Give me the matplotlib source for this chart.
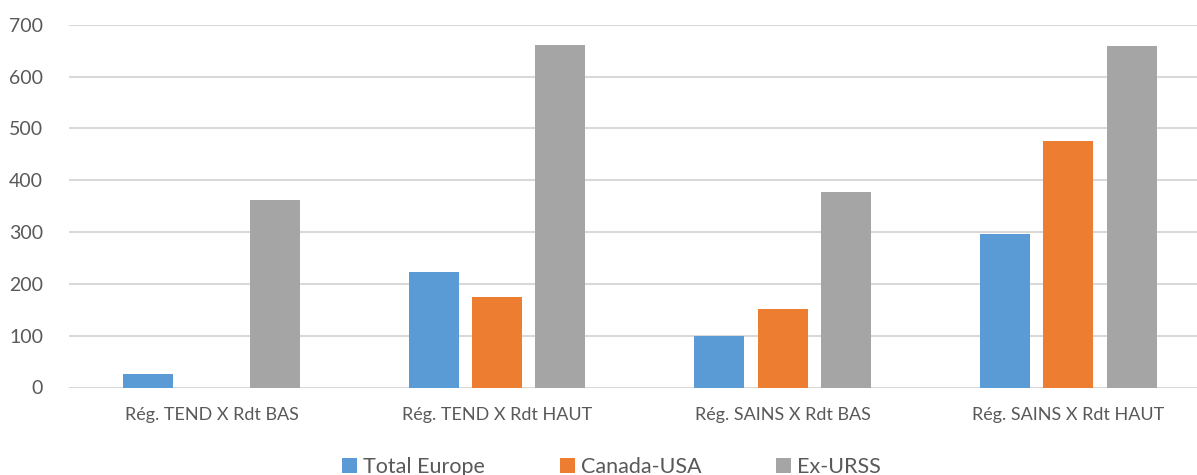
import matplotlib.pyplot as plt
import numpy as np

categories = ['Rég. TEND X Rdt BAS', 'Rég. TEND X Rdt HAUT',
              'Rég. SAINS X Rdt BAS', 'Rég. SAINS X Rdt HAUT']
total_europe = [27, 223, 100, 296]
canada_usa = [0, 175, 152, 476]
ex_urss = [362, 660, 377, 659]
series_names = ['Total Europe', 'Canada-USA', 'Ex-URSS']
colors = ['#5B9BD5', '#ED7D31', '#A5A5A5']

plt.rcParams['font.family'] = ['Lato', 'DejaVu Sans']

fig = plt.figure(figsize=(11.97, 4.75), dpi=100)
# plot area runs a bit past the right edge, as in the cropped original
ax = fig.add_axes([68.7 / 1197, 1 - 387.5 / 475, (1211 - 68.7) / 1197, (387.5 - 24.7) / 475])

x = np.arange(len(categories))
w = 0.175
pitch = 0.222
for i, (vals, name, c) in enumerate(zip([total_europe, canada_usa, ex_urss], series_names, colors)):
    ax.bar(x + (i - 1) * pitch, vals, width=w, color=c, label=name, zorder=3)

ax.set_xlim(-0.5, 3.5)
ax.set_ylim(0, 700)
ax.set_yticks(range(0, 701, 100))
ax.grid(axis='y', color='#D9D9D9', linewidth=1.5, zorder=0)
for s in ax.spines.values():
    s.set_visible(False)
ax.tick_params(axis='both', length=0, colors='#595959', labelsize=13)
ax.tick_params(axis='y', labelsize=14, pad=18.5)
ax.tick_params(axis='x', pad=14)
ax.set_xticks(x)
ax.set_xticklabels(categories)

leg = fig.legend(loc='center left', bbox_to_anchor=(323 / 1197, 1 - 467 / 475), ncol=3,
                 frameon=False, fontsize=15.5, handlelength=0.7, handleheight=0.7,
                 handletextpad=0.25, columnspacing=3.5, labelcolor='#595959')

fig.savefig('out.png', dpi=100)
